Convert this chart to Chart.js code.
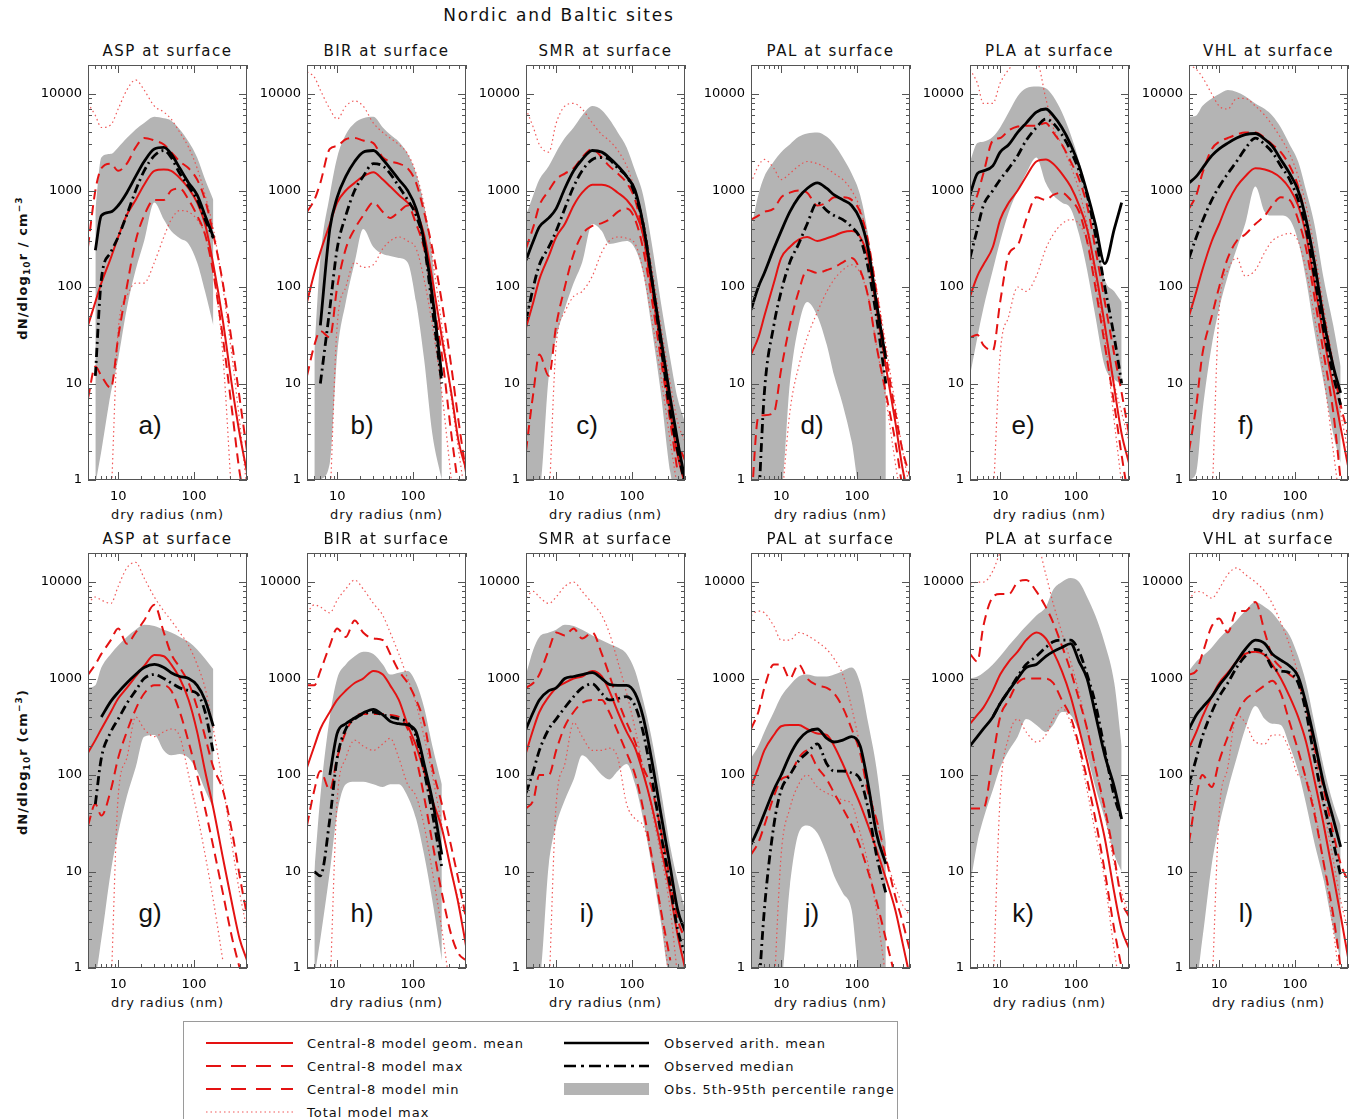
<!DOCTYPE html>
<html>
<head>
<meta charset="utf-8">
<script src="https://cdn.jsdelivr.net/npm/chart.js@4.4.1/dist/chart.umd.min.js"></script>
<style>
  body { margin: 0; background: #fff; }
  #page { position: relative; width: 1350px; height: 1119px; overflow: hidden;
          font-family: "DejaVu Sans", sans-serif; color: #111; }
  .abs { position: absolute; white-space: nowrap; }
  .center { transform: translate(-50%, -50%); }
  .main-title { font-size: 17px; letter-spacing: 1.8px; }
  .panel-title { font-size: 15px; letter-spacing: 1.5px; }
  .x-title { font-size: 13px; letter-spacing: 0.8px; }
  .letter { font-family: "Liberation Sans", sans-serif; font-size: 26px; color: #111; }
  .y-title { font-size: 13px; font-weight: bold; letter-spacing: 1.1px; transform: translate(-50%, -50%) rotate(-90deg); }
  .y-title sub { font-size: 9px; vertical-align: -3px; }
  .y-title sup { font-size: 9px; vertical-align: 5px; }
  #legend { left: 183px; top: 1021px; width: 713px; height: 120px; border: 1px solid #9a9a9a; }
  .legend-text { position: absolute; font-size: 13px; letter-spacing: 1px; transform: translateY(-50%); white-space: nowrap; }
  canvas { position: absolute; }
</style>
</head>
<body>
<div id="page">
  <div class="abs center main-title" style="left:559px;top:15px">Nordic and Baltic sites</div>
  <div class="abs y-title" style="left:23px;top:268px">dN/dlog<sub>10</sub>r / cm<sup>−3</sup></div>
  <div class="abs y-title" style="left:23px;top:762px">dN/dlog<sub>10</sub>r (cm<sup>−3</sup>)</div>

  <div id="legend" class="abs">
    <svg width="713" height="120" style="position:absolute;left:0;top:0">
      <line x1="22" y1="21" x2="109" y2="21" stroke="rgb(228,18,18)" stroke-width="2"/>
      <line x1="22" y1="44" x2="109" y2="44" stroke="rgb(228,18,18)" stroke-width="2" stroke-dasharray="15 10"/>
      <line x1="22" y1="67" x2="109" y2="67" stroke="rgb(228,18,18)" stroke-width="2" stroke-dasharray="15 10"/>
      <line x1="22" y1="90" x2="109" y2="90" stroke="rgba(238,70,70,0.9)" stroke-width="1.2" stroke-dasharray="1.5 3"/>
      <line x1="380" y1="21" x2="465" y2="21" stroke="#000" stroke-width="2.6"/>
      <line x1="380" y1="44" x2="465" y2="44" stroke="#000" stroke-width="2.6" stroke-dasharray="12 5 3 5"/>
      <rect x="380" y="61" width="85" height="12" fill="#b4b4b4"/>
    </svg>
    <div class="legend-text" style="left:123px;top:21px">Central-8 model geom. mean</div>
    <div class="legend-text" style="left:123px;top:44px">Central-8 model max</div>
    <div class="legend-text" style="left:123px;top:67px">Central-8 model min</div>
    <div class="legend-text" style="left:123px;top:90px">Total model max</div>
    <div class="legend-text" style="left:480px;top:21px">Observed arith. mean</div>
    <div class="legend-text" style="left:480px;top:44px">Observed median</div>
    <div class="legend-text" style="left:480px;top:67px">Obs. 5th-95th percentile range</div>
  </div>
</div>

<script>
const _ = null;

// dry radius grid (nm), shared by every curve
const radius = [4, 5, 6, 8, 10, 13, 17, 22, 30, 40, 50, 65, 85, 110, 140, 180, 240, 320, 400, 500];
const xTickValues = [10, 100];
const yTickValues = [1, 10, 100, 1000, 10000];
const sites = ['ASP', 'BIR', 'SMR', 'PAL', 'PLA', 'VHL'];
const panelLetters = ['a', 'b', 'c', 'd', 'e', 'f', 'g', 'h', 'i', 'j', 'k', 'l'];

// a) ASP
const aP5 = [_, 0.9, 2, 8, 18, 60, 150, 300, 750, 500, 380, 320, 280, 180, 90, 40, _, _, _, _];
const aP95 = [_, 600, 2200, 2400, 2800, 3500, 4300, 5000, 5800, 5600, 5300, 4300, 3200, 2200, 1300, 800, _, _, _, _];
const aObsMean = [_, 240, 550, 600, 700, 950, 1400, 2000, 2700, 2800, 2400, 1700, 1200, 900, 550, 330, _, _, _, _];
const aObsMedian = [_, 12, 120, 230, 330, 560, 1000, 1600, 2300, 2600, 2200, 1500, 1100, 800, 500, 320, _, _, _, _];
const aGeomMean = [40, 70, 110, 200, 330, 560, 800, 1150, 1600, 1650, 1600, 1350, 1050, 750, 450, 170, 45, 9, 3, 1.2];
const aModelMax = [260, 1000, 1700, 1900, 1600, 1900, 2800, 3500, 3300, 3000, 2500, 2000, 1700, 1300, 800, 350, 110, 25, 7, 2];
const aModelMin = [7, 15, 12, 9, 30, 100, 300, 550, 800, 800, 1000, 1050, 800, 550, 350, 140, 30, 5, 1.2, 0.5];
const aTotalMax = [8000, 6000, 4500, 4800, 7000, 11000, 14000, 11000, 7500, 6500, 5500, 4000, 2800, 1700, 900, 400, 100, 18, 4, 0.8];
const aTotalMin = [_, _, _, 0.5, 35, 80, 110, 110, 180, 330, 500, 620, 600, 500, 350, 150, 20, 0.5, _, _];

// b) BIR
const bP5 = [_, 0.8, 1, 1.5, 20, 70, 180, 400, 260, 220, 210, 200, 180, 70, 18, 3, 1, _, _, _];
const bP95 = [_, 20, 200, 900, 2200, 3800, 5000, 5600, 5800, 4500, 3800, 3200, 2400, 1500, 700, 200, 8, _, _, _];
const bObsMean = [_, _, 40, 400, 850, 1400, 2000, 2500, 2600, 2100, 1700, 1300, 1000, 650, 300, 80, 12, _, _, _];
const bObsMedian = [_, _, 10, 60, 250, 550, 1000, 1400, 1900, 1800, 1500, 1100, 800, 550, 280, 60, 10, _, _, _];
const bGeomMean = [70, 140, 230, 450, 750, 1000, 1200, 1400, 1550, 1300, 1100, 900, 750, 600, 350, 120, 30, 8, 2.5, 1.3];
const bModelMax = [600, 800, 1200, 2700, 2900, 3400, 3500, 3300, 3100, 2200, 2000, 1900, 1700, 1200, 600, 250, 70, 15, 4, 1.2];
const bModelMin = [12, 25, 35, 30, 100, 250, 400, 550, 750, 600, 520, 600, 700, 450, 250, 80, 20, 3, 0.8, _];
const bTotalMax = [17000, 15000, 11000, 7000, 5500, 7500, 8500, 7500, 5000, 4000, 3500, 3000, 2400, 1500, 700, 200, 40, 7, 2, 0.6];
const bTotalMin = [_, _, _, 0.5, 40, 100, 180, 160, 170, 250, 300, 330, 300, 250, 120, 40, 8, 1, _, _];

// c) SMR
const cP5 = [0.8, 0.8, 0.8, 12, 30, 60, 110, 180, 450, 380, 280, 290, 300, 250, 140, 40, 8, 1.2, 0.6, 0.6];
const cP95 = [550, 900, 1300, 1800, 2500, 3500, 4500, 6000, 7500, 6800, 5500, 4000, 2800, 1600, 900, 300, 70, 18, 7, 4];
const cObsMean = [190, 300, 420, 520, 650, 1050, 1600, 2100, 2600, 2500, 2200, 1800, 1400, 1000, 450, 130, 30, 7, 2.5, 1];
const cObsMedian = [45, 100, 170, 260, 380, 650, 1100, 1600, 2100, 2200, 2100, 1700, 1400, 900, 450, 130, 25, 5, 2, 0.9];
const cGeomMean = [38, 70, 120, 210, 330, 450, 700, 950, 1150, 1150, 1100, 950, 800, 600, 350, 110, 25, 5, 1.8, 0.9];
const cModelMax = [250, 420, 700, 1000, 1300, 1500, 1700, 2200, 2700, 2200, 1800, 1500, 1200, 800, 350, 100, 25, 6, 2.5, 1.6];
const cModelMin = [2, 8, 20, 12, 40, 100, 220, 350, 430, 460, 500, 600, 650, 500, 250, 80, 18, 4, 1.2, _];
const cTotalMax = [7000, 4500, 3000, 2500, 5000, 7500, 8000, 7000, 5000, 3800, 3300, 2600, 1800, 1000, 500, 170, 40, 10, 4, 2.5];
const cTotalMin = [_, _, _, 0.5, 25, 55, 80, 90, 130, 230, 300, 330, 320, 280, 150, 50, 12, 2.5, 0.8, _];

// d) PAL
const dP5 = [0.8, 0.8, 0.8, 0.8, 0.8, 10, 40, 70, 50, 25, 12, 6, 2.5, 0.8, 0.8, 0.8, 0.8, _, _, _];
const dP95 = [400, 900, 1400, 2000, 2500, 3000, 3600, 3900, 4000, 3600, 3000, 2200, 1500, 900, 350, 80, 10, _, _, _];
const dObsMean = [58, 100, 140, 250, 380, 600, 850, 1050, 1200, 1050, 900, 800, 700, 500, 250, 70, 18, _, _, _];
const dObsMedian = [_, 0.5, 8, 40, 90, 180, 280, 450, 750, 620, 550, 500, 420, 320, 160, 50, 10, _, _, _];
const dGeomMean = [20, 30, 50, 110, 200, 260, 310, 330, 300, 320, 340, 370, 380, 330, 200, 60, 15, 4, 1.3, 0.6];
const dModelMax = [500, 550, 600, 650, 850, 950, 1000, 950, 700, 750, 850, 850, 800, 600, 300, 90, 20, 5, 2, 1.1];
const dModelMin = [0.5, 4.5, 4.7, 5, 14, 40, 90, 150, 140, 150, 160, 180, 200, 150, 80, 25, 8, 2.5, 0.8, _];
const dTotalMax = [1200, 1800, 2100, 1700, 1300, 1500, 1800, 2000, 1900, 1700, 1500, 1300, 1000, 650, 300, 100, 25, 6, 2, 0.8];
const dTotalMin = [_, _, _, _, 0.5, 5, 15, 30, 55, 90, 120, 150, 170, 140, 80, 25, 7, 1.5, 0.5, _];

// e) PLA
const eP5 = [12, 30, 60, 150, 300, 600, 1000, 1500, 2200, 1200, 900, 750, 650, 350, 150, 50, 15, 11, 10, _];
const eP95 = [2000, 3100, 3200, 3600, 4500, 6500, 9500, 11500, 12000, 11500, 9500, 6500, 3800, 2000, 900, 400, 120, 90, 70, _];
const eObsMean = [900, 1500, 1600, 1800, 2500, 3000, 4000, 5000, 6500, 7000, 6000, 4500, 3000, 1800, 950, 450, 175, 400, 750, _];
const eObsMedian = [200, 400, 700, 1000, 1300, 1700, 2300, 3300, 4500, 5500, 5000, 3800, 2600, 1600, 900, 350, 100, 30, 10, _];
const eGeomMean = [80, 130, 170, 260, 500, 750, 1000, 1400, 2000, 2100, 1900, 1500, 1100, 700, 400, 150, 40, 9, 3, 1.5];
const eModelMax = [600, 900, 1500, 3300, 3500, 4200, 4600, 4700, 4700, 5000, 4000, 3000, 2000, 1300, 700, 250, 70, 20, 8, 3];
const eModelMin = [30, 32, 25, 22, 70, 220, 270, 500, 850, 800, 900, 950, 800, 600, 300, 100, 25, 6, 1.8, 0.6];
const eTotalMax = [18000, 13000, 8000, 8000, 13000, 18000, 22000, 22000, 22000, 9000, 4500, 3000, 1800, 1000, 450, 150, 40, 10, 5, 2.5];
const eTotalMin = [_, _, _, 0.5, 20, 50, 100, 90, 130, 250, 350, 450, 500, 450, 300, 120, 30, 4, 0.9, _];

// f) VHL
const fP5 = [1, 1.2, 5, 25, 60, 130, 250, 450, 1100, 600, 550, 550, 500, 300, 120, 35, 10, 3, 1.5, _];
const fP95 = [5800, 6000, 7500, 9000, 10000, 11000, 10500, 9500, 8000, 7000, 6000, 4500, 3000, 2000, 1000, 450, 120, 40, 15, _];
const fObsMean = [1200, 1400, 1700, 2300, 2700, 3100, 3500, 3800, 3900, 3400, 2900, 2100, 1500, 1000, 500, 180, 45, 15, 8, _];
const fObsMedian = [200, 330, 480, 800, 1100, 1500, 2000, 2700, 3500, 3000, 2500, 1800, 1300, 800, 400, 130, 35, 12, 6, _];
const fGeomMean = [50, 90, 150, 300, 450, 750, 1100, 1400, 1700, 1650, 1550, 1350, 1050, 700, 350, 110, 30, 9, 3.5, 1.4];
const fModelMax = [650, 900, 1500, 2700, 3200, 3500, 3800, 4000, 4000, 3500, 3000, 2500, 1800, 1100, 500, 180, 50, 15, 6, 3];
const fModelMin = [2, 6, 20, 50, 100, 200, 300, 350, 450, 550, 700, 850, 800, 500, 250, 80, 20, 5, 1, _];
const fTotalMax = [20000, 18000, 15000, 10000, 7500, 7000, 9000, 9000, 7500, 6000, 4800, 3500, 2400, 1400, 700, 250, 60, 16, 5, 2];
const fTotalMin = [_, _, _, 0.5, 60, 150, 200, 130, 150, 230, 300, 340, 360, 300, 150, 50, 12, 2, 0.5, _];

// g) ASP
const gP5 = [0.9, 0.9, 2, 10, 25, 60, 120, 250, 260, 180, 160, 165, 150, 110, 70, 45, _, _, _, _];
const gP95 = [800, 850, 1300, 1800, 2200, 2700, 3200, 3600, 3500, 3200, 3000, 2700, 2400, 2000, 1600, 1250, _, _, _, _];
const gObsMean = [_, _, 400, 580, 720, 900, 1100, 1300, 1400, 1300, 1150, 1050, 1000, 850, 600, 320, _, _, _, _];
const gObsMedian = [_, 50, 150, 280, 380, 550, 750, 1000, 1100, 1000, 900, 800, 750, 700, 450, 170, _, _, _, _];
const gGeomMean = [170, 230, 300, 450, 620, 800, 1050, 1350, 1750, 1700, 1400, 1000, 600, 280, 110, 45, 14, 4.5, 2, 1.2];
const gModelMax = [1100, 1400, 1800, 2500, 3300, 2300, 3000, 4000, 5800, 3000, 1800, 1300, 900, 500, 250, 120, 70, 25, 9, 3.5];
const gModelMin = [30, 50, 38, 70, 150, 280, 480, 700, 850, 850, 750, 450, 220, 100, 45, 18, 6, 2, 1, _];
const gTotalMax = [6000, 7000, 6500, 6000, 9000, 14000, 16000, 11000, 7000, 5000, 4000, 3000, 2200, 1400, 800, 300, 80, 18, 6, 2.5];
const gTotalMin = [_, _, _, 0.5, 60, 150, 400, 300, 250, 280, 300, 250, 100, 40, 15, 5, 1.2, _, _, _];

// h) BIR
const hP5 = [_, 0.8, 2, 10, 40, 80, 85, 85, 80, 75, 80, 80, 60, 35, 15, 5, 1.2, _, _, _];
const hP95 = [_, 10, 60, 400, 1000, 1400, 1700, 1900, 1800, 1400, 1100, 1150, 1200, 900, 500, 200, 80, _, _, _];
const hObsMean = [_, _, _, 100, 270, 340, 390, 440, 480, 420, 360, 340, 330, 280, 130, 55, 15, _, _, _];
const hObsMedian = [_, 10, 9, 35, 150, 300, 380, 430, 450, 420, 400, 380, 350, 250, 110, 40, 11, _, _, _];
const hGeomMean = [120, 200, 300, 450, 600, 750, 900, 1000, 1200, 1100, 850, 600, 330, 200, 110, 55, 28, 10, 4.5, 1.7];
const hModelMax = [850, 850, 1200, 2200, 3300, 2700, 4000, 3000, 2600, 2500, 1800, 1200, 900, 600, 350, 120, 50, 18, 8, 3.3];
const hModelMin = [30, 70, 110, 70, 150, 280, 400, 430, 430, 430, 420, 400, 300, 150, 60, 20, 6, 2.2, 1.4, 1.2];
const hTotalMax = [4800, 5800, 5500, 4800, 6500, 8500, 10500, 8500, 6000, 4500, 3000, 1800, 1000, 550, 250, 100, 30, 10, 5, 3.5];
const hTotalMin = [_, _, _, 0.5, 55, 150, 230, 200, 180, 210, 240, 150, 80, 60, 30, 10, 2.5, 0.5, _, _];

// i) SMR
const iP5 = [0.8, 0.8, 0.8, 12, 30, 55, 90, 160, 130, 100, 90, 110, 130, 80, 35, 12, 3, 0.8, 0.8, 0.8];
const iP95 = [1100, 2000, 2700, 3000, 3200, 3600, 3500, 3200, 2800, 2500, 2300, 2100, 1800, 1200, 600, 250, 70, 18, 8, 4];
const iObsMean = [300, 450, 600, 750, 800, 1000, 1050, 1100, 1150, 1000, 870, 850, 850, 700, 400, 150, 40, 11, 4, 2.4];
const iObsMedian = [65, 110, 180, 300, 380, 500, 650, 800, 880, 700, 600, 620, 650, 520, 280, 100, 25, 7, 2.5, 1.4];
const iGeomMean = [170, 300, 450, 650, 800, 900, 1000, 1050, 1200, 1050, 750, 450, 280, 190, 105, 50, 18, 6, 2.2, 1];
const iModelMax = [800, 900, 1100, 2000, 3000, 2800, 3300, 2600, 3000, 1800, 1100, 600, 350, 220, 120, 75, 27, 8, 3.2, 2];
const iModelMin = [45, 55, 100, 100, 180, 320, 450, 560, 600, 600, 450, 280, 170, 100, 45, 15, 4, 1.2, _, _];
const iTotalMax = [7000, 8000, 7000, 6000, 7000, 9000, 10000, 8000, 6000, 4500, 3000, 1500, 700, 300, 120, 45, 15, 4, 0.8, _];
const iTotalMin = [_, _, _, 0.5, 50, 130, 350, 250, 180, 180, 190, 150, 50, 35, 30, 15, 4, 0.6, _, _];

// j) PAL
const jP5 = [0.8, 0.8, 0.8, 0.8, 0.8, 7, 25, 30, 25, 15, 9, 6, 4, 0.8, 0.8, 0.8, 0.8, _, _, _];
const jP95 = [150, 200, 280, 450, 650, 850, 1050, 1100, 1050, 1050, 1100, 1200, 1300, 900, 350, 120, 20, _, _, _];
const jObsMean = [19, 28, 40, 70, 100, 160, 230, 280, 300, 240, 220, 230, 250, 200, 80, 25, 12, _, _, _];
const jObsMedian = [_, 0.5, 4, 30, 70, 100, 140, 170, 210, 130, 110, 110, 105, 90, 45, 15, 6, _, _, _];
const jGeomMean = [75, 120, 180, 260, 320, 330, 330, 300, 270, 260, 200, 130, 80, 50, 30, 17, 8.5, 4, 1.8, 0.8];
const jModelMax = [300, 450, 800, 1400, 1400, 1000, 1400, 1000, 850, 800, 700, 500, 300, 170, 65, 35, 14, 5.5, 3, 1.5];
const jModelMin = [15, 20, 30, 60, 90, 100, 150, 180, 120, 90, 65, 45, 30, 18, 10, 5, 2, 0.8, _, _];
const jTotalMax = [4500, 5000, 4800, 3500, 2500, 2500, 3000, 2800, 2400, 2000, 1600, 1100, 500, 200, 80, 35, 14, 7, 4.5, 3.5];
const jTotalMin = [_, _, _, 0.5, 15, 45, 80, 100, 75, 65, 60, 55, 50, 25, 12, 4, 0.8, _, _, _];

// k) PLA
const kP5 = [7, 20, 35, 70, 120, 180, 250, 380, 330, 280, 330, 450, 420, 280, 160, 75, 35, 15, 10, _];
const kP95 = [1000, 1050, 1150, 1400, 1700, 2200, 2800, 3500, 4500, 5500, 8300, 10000, 11000, 10000, 7000, 4500, 2300, 900, 200, _];
const kObsMean = [200, 250, 300, 400, 550, 750, 1000, 1300, 1400, 1700, 1900, 2100, 2300, 1500, 1000, 430, 160, 75, 35, _];
const kObsMedian = [_, _, _, 400, 550, 750, 1050, 1400, 1700, 2100, 2400, 2500, 2500, 1900, 1100, 550, 180, 60, 35, _];
const kGeomMean = [340, 420, 500, 750, 1100, 1500, 1900, 2500, 3000, 2600, 1900, 1200, 650, 300, 140, 60, 22, 6, 2.5, 1.6];
const kModelMax = [1800, 1500, 3500, 7000, 7500, 7500, 10000, 10500, 8000, 5500, 3800, 2200, 1200, 600, 300, 120, 45, 14, 5, 3.4];
const kModelMin = [45, 45, 45, 150, 400, 600, 900, 1000, 1000, 1000, 900, 600, 400, 200, 90, 35, 10, 2.5, 1, _];
const kTotalMax = [9500, 10000, 10000, 13000, 20000, 25000, 25000, 25000, 25000, 12000, 6000, 3000, 1500, 700, 300, 120, 40, 12, 6, 3.5];
const kTotalMin = [_, _, _, 0.5, 60, 250, 380, 280, 220, 260, 380, 500, 350, 180, 70, 25, 8, 1.5, 0.5, _];

// l) VHL
const lP5 = [0.8, 0.8, 2, 12, 30, 70, 150, 300, 520, 380, 340, 330, 200, 110, 50, 20, 8, 2.5, 1.2, _];
const lP95 = [1200, 1500, 1700, 2100, 2600, 3200, 4000, 5000, 6200, 5500, 4800, 3700, 2800, 1700, 900, 350, 120, 50, 30, _];
const lObsMean = [300, 420, 500, 650, 850, 1100, 1500, 2000, 2500, 2300, 1800, 1550, 1350, 1050, 550, 230, 80, 35, 18, _];
const lObsMedian = [80, 150, 250, 450, 650, 900, 1300, 1700, 2000, 1800, 1300, 1200, 1150, 900, 450, 150, 50, 20, 9, _];
const lGeomMean = [190, 280, 400, 650, 900, 1150, 1500, 1800, 1900, 1750, 1400, 1000, 650, 400, 220, 90, 30, 9, 3.5, 1.3];
const lModelMax = [1100, 1200, 1800, 3500, 4200, 3000, 5000, 5000, 6200, 3000, 1700, 1300, 1100, 900, 500, 200, 70, 25, 12, 8];
const lModelMin = [20, 60, 100, 75, 140, 250, 420, 600, 720, 850, 950, 700, 350, 180, 90, 40, 12, 3.5, 1, _];
const lTotalMax = [6500, 8000, 7800, 6800, 8500, 12000, 14000, 12000, 10000, 8000, 6000, 3800, 2200, 1100, 500, 170, 45, 13, 5, 2.5];
const lTotalMin = [_, _, _, 0.5, 40, 120, 420, 350, 220, 210, 260, 260, 180, 100, 90, 45, 12, 2.5, 0.6, _];

// order: p5, p95, obs mean, obs median, geom mean, model max, model min, total max, total min
const panelSeries = [
  [aP5, aP95, aObsMean, aObsMedian, aGeomMean, aModelMax, aModelMin, aTotalMax, aTotalMin],
  [bP5, bP95, bObsMean, bObsMedian, bGeomMean, bModelMax, bModelMin, bTotalMax, bTotalMin],
  [cP5, cP95, cObsMean, cObsMedian, cGeomMean, cModelMax, cModelMin, cTotalMax, cTotalMin],
  [dP5, dP95, dObsMean, dObsMedian, dGeomMean, dModelMax, dModelMin, dTotalMax, dTotalMin],
  [eP5, eP95, eObsMean, eObsMedian, eGeomMean, eModelMax, eModelMin, eTotalMax, eTotalMin],
  [fP5, fP95, fObsMean, fObsMedian, fGeomMean, fModelMax, fModelMin, fTotalMax, fTotalMin],
  [gP5, gP95, gObsMean, gObsMedian, gGeomMean, gModelMax, gModelMin, gTotalMax, gTotalMin],
  [hP5, hP95, hObsMean, hObsMedian, hGeomMean, hModelMax, hModelMin, hTotalMax, hTotalMin],
  [iP5, iP95, iObsMean, iObsMedian, iGeomMean, iModelMax, iModelMin, iTotalMax, iTotalMin],
  [jP5, jP95, jObsMean, jObsMedian, jGeomMean, jModelMax, jModelMin, jTotalMax, jTotalMin],
  [kP5, kP95, kObsMean, kObsMedian, kGeomMean, kModelMax, kModelMin, kTotalMax, kTotalMin],
  [lP5, lP95, lObsMean, lObsMedian, lGeomMean, lModelMax, lModelMin, lTotalMax, lTotalMin],
];

// layout of the 2 x 6 grid of plot boxes
const colLeft = [88, 307, 526, 751, 970, 1189];
const rowTop = [65, 553];
const PLOT_W = 159, PLOT_H = 415;
// the top pad must exceed the y-axis label overhang, or Chart.js pushes the plot down
const AXIS_W = 70, AXIS_H = 30, PAD_TOP = 20, PAD_RIGHT = 8;
const letterDx = [62, 55, 61, 61, 53, 57];

const RED = 'rgb(228,18,18)';
const DOT_RED = 'rgba(238,70,70,0.9)';
const GREY = '#b4b4b4';
const FONT = { family: 'DejaVu Sans', size: 13 };

const page = document.getElementById('page');

function addText(cls, text, x, y) {
  const el = document.createElement('div');
  el.className = 'abs center ' + cls;
  el.style.left = x + 'px';
  el.style.top = y + 'px';
  el.textContent = text;
  page.appendChild(el);
}

// all 1..9 x 10^n values inside the axis range
function logTickValues(min, max) {
  const out = [];
  for (let e = Math.floor(Math.log10(min)); e <= Math.ceil(Math.log10(max)); e++) {
    for (let m = 1; m <= 9; m++) {
      const v = m * Math.pow(10, e);
      if (v >= min * 0.999 && v <= max * 1.001) out.push({ v, major: m === 1 });
    }
  }
  return out;
}

// box around the plot with inward ticks on all four sides
const frameTicks = {
  id: 'frameTicks',
  afterDatasetsDraw(chart) {
    const { ctx, chartArea: a, scales: { x, y } } = chart;
    ctx.save();
    ctx.strokeStyle = '#555';
    ctx.lineWidth = 1;
    ctx.strokeRect(a.left + 0.5, a.top + 0.5, a.right - a.left - 1, a.bottom - a.top - 1);
    ctx.beginPath();
    for (const t of logTickValues(x.min, x.max)) {
      const px = Math.round(x.getPixelForValue(t.v)) + 0.5;
      const len = t.major ? 8 : 4;
      ctx.moveTo(px, a.bottom); ctx.lineTo(px, a.bottom - len);
      ctx.moveTo(px, a.top); ctx.lineTo(px, a.top + len);
    }
    for (const t of logTickValues(y.min, y.max)) {
      const py = Math.round(y.getPixelForValue(t.v)) + 0.5;
      const len = t.major ? 8 : 4;
      ctx.moveTo(a.left, py); ctx.lineTo(a.left + len, py);
      ctx.moveTo(a.right, py); ctx.lineTo(a.right - len, py);
    }
    ctx.stroke();
    ctx.restore();
  }
};

const pts = vals => radius.map((r, k) => ({ x: r, y: vals[k] }));

function lineSet(vals, color, width, dash, order) {
  return {
    data: pts(vals), borderColor: color, borderWidth: width, borderDash: dash,
    pointRadius: 0, fill: false, order, clip: 0, cubicInterpolationMode: 'monotone'
  };
}

function makePanel(i) {
  const row = Math.floor(i / 6), col = i % 6;
  const left = colLeft[col], top = rowTop[row];
  const [p5, p95, obsMean, obsMedian, geomMean, modelMax, modelMin, totalMax, totalMin] = panelSeries[i];

  addText('panel-title', sites[col] + ' at surface', left + PLOT_W / 2, top - 14);
  addText('x-title', 'dry radius (nm)', left + PLOT_W / 2, top + PLOT_H + 34);
  addText('letter', panelLetters[i] + ')', left + letterDx[col], top + 360);

  const canvas = document.createElement('canvas');
  canvas.width = AXIS_W + PLOT_W + PAD_RIGHT;
  canvas.height = PAD_TOP + PLOT_H + AXIS_H;
  canvas.style.left = (left - AXIS_W) + 'px';
  canvas.style.top = (top - PAD_TOP) + 'px';
  canvas.style.width = canvas.width + 'px';
  canvas.style.height = canvas.height + 'px';
  page.appendChild(canvas);

  new Chart(canvas, {
    type: 'line',
    data: {
      datasets: [
        { data: pts(p5), borderColor: 'rgba(0,0,0,0)', borderWidth: 0, pointRadius: 0,
          fill: false, order: 9, clip: 0, cubicInterpolationMode: 'monotone' },
        { data: pts(p95), borderColor: 'rgba(0,0,0,0)', borderWidth: 0, pointRadius: 0,
          fill: '-1', backgroundColor: GREY, order: 9, clip: 0, cubicInterpolationMode: 'monotone' },
        lineSet(totalMax, DOT_RED, 1.2, [1.5, 3], 6),
        lineSet(totalMin, DOT_RED, 1.2, [1.5, 3], 6),
        lineSet(modelMax, RED, 2, [10, 6], 4),
        lineSet(modelMin, RED, 2, [10, 6], 4),
        lineSet(geomMean, RED, 2, [], 3),
        lineSet(obsMedian, '#000', 2.8, [9, 4, 2, 4], 2),
        lineSet(obsMean, '#000', 2.8, [], 1),
      ]
    },
    options: {
      responsive: false,
      animation: false,
      events: [],
      devicePixelRatio: 1,
      layout: { padding: { left: 0, top: PAD_TOP, right: PAD_RIGHT, bottom: 0 } },
      plugins: { legend: { display: false }, tooltip: { enabled: false } },
      scales: {
        x: {
          type: 'logarithmic', position: 'bottom', min: 4, max: 500,
          grid: { display: false, drawTicks: false }, border: { display: false },
          afterBuildTicks: s => { s.ticks = xTickValues.map(v => ({ value: v })); },
          afterFit: s => { s.height = AXIS_H; },
          ticks: { font: FONT, color: '#000', padding: 9, maxRotation: 0, autoSkip: false,
                   callback: v => String(v) }
        },
        y: {
          type: 'logarithmic', position: 'left', min: 1, max: 20000,
          grid: { display: false, drawTicks: false }, border: { display: false },
          afterBuildTicks: s => { s.ticks = yTickValues.map(v => ({ value: v })); },
          afterFit: s => { s.width = AXIS_W; },
          ticks: { font: FONT, color: '#000', padding: 6, autoSkip: false,
                   callback: v => String(v) }
        }
      }
    },
    plugins: [frameTicks]
  });
}

for (let i = 0; i < 12; i++) makePanel(i);
</script>
</body>
</html>
